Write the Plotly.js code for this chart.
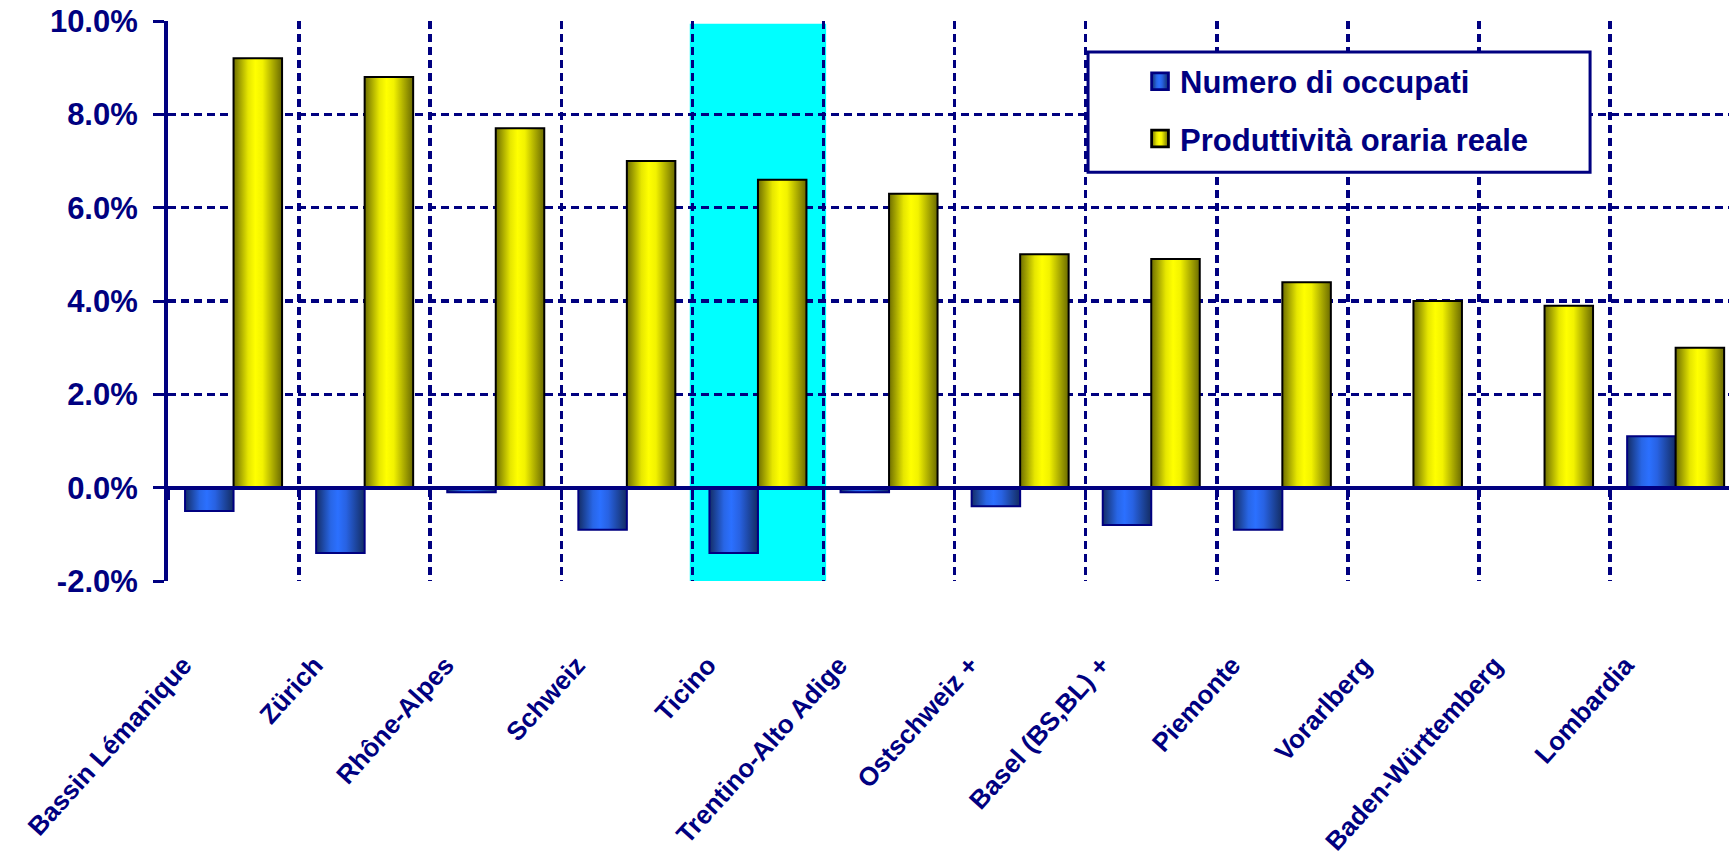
<!DOCTYPE html>
<html>
<head>
<meta charset="utf-8">
<script src="https://cdn.plot.ly/plotly-3.0.1.min.js"></script>
<style>html,body{margin:0;padding:0;background:#fff;}#chart{width:1729px;height:867px;}</style>
</head>
<body>
<div id="chart"></div>
<script>
const categories = ["Bassin Lémanique", "Zürich", "Rhône-Alpes", "Schweiz", "Ticino", "Trentino-Alto Adige", "Ostschweiz +", "Basel (BS,BL) +", "Piemonte", "Vorarlberg", "Baden-Württemberg", "Lombardia"];
const numeroOccupati = [-0.5, -1.4, -0.1, -0.9, -1.4, -0.1, -0.4, -0.8, -0.9, 0.0, 0.0, 1.1];
const produttivitaOraria = [9.2, 8.8, 7.7, 7.0, 6.6, 6.3, 5.0, 4.9, 4.4, 4.0, 3.9, 3.0];
const seriesNames = ["Numero di occupati", "Produttività oraria reale"];
const yTickVals = [-2, 0, 2, 4, 6, 8, 10];
const yTickText = ["-2.0%", "0.0%", "2.0%", "4.0%", "6.0%", "8.0%", "10.0%"];
const highlighted = "Ticino";

const NAVY = "#000080";
const tickFont = {family: "Liberation Sans Narrow, Liberation Sans, Arial, sans-serif", size: 31, color: NAVY, weight: 700};
const catFont = {family: "Liberation Sans Narrow, Liberation Sans, Arial, sans-serif", size: 26, color: NAVY, weight: 700};

const hi = categories.indexOf(highlighted);

const data = [
  {type: "bar", name: seriesNames[0], x: categories, y: numeroOccupati, legendgroup: "a",
   marker: {color: "#2a64e0", line: {color: NAVY, width: 2}}},
  {type: "bar", name: seriesNames[1], x: categories, y: produttivitaOraria, legendgroup: "b",
   marker: {color: "#f0f000", line: {color: "#000000", width: 2}}}
];

const layout = {
  width: 1729, height: 867,
  margin: {l: 168, r: 0, t: 21, b: 286, pad: 0},
  paper_bgcolor: "#ffffff", plot_bgcolor: "#ffffff",
  barmode: "group", bargap: 0.26, bargroupgap: 0,
  showlegend: true,
  legend: {x: 0.6227, y: 0.94, xanchor: "left", yanchor: "top", bgcolor: "rgba(0,0,0,0)", borderwidth: 0,
           font: {family: "Liberation Sans, Arial, sans-serif", size: 31, color: NAVY, weight: 700},
           tracegroupgap: 14},
  xaxis: {
    type: "category", range: [-0.5, 11.407], fixedrange: true,
    anchor: "free", position: 1/6,
    showline: true, linecolor: NAVY, linewidth: 4,
    ticks: "outside", tickson: "boundaries", ticklen: 10, tickwidth: 3, tickcolor: NAVY,
    showgrid: true, gridcolor: NAVY, gridwidth: 3.5, griddash: "8px,5px",
    tickangle: -48, tickfont: catFont, ticklabelstandoff: 150, ticklabelshift: -50,
    zeroline: false
  },
  yaxis: {
    range: [-2, 10], fixedrange: true,
    tickvals: yTickVals, ticktext: yTickText, tickfont: tickFont,
    showline: true, linecolor: NAVY, linewidth: 4,
    ticks: "outside", ticklen: 11, tickwidth: 3, tickcolor: NAVY, ticklabelstandoff: 9,
    showgrid: true, gridcolor: NAVY, gridwidth: 3.5, griddash: "8px,5px",
    zeroline: false
  },
  shapes: [
    {type: "rect", layer: "below", xref: "x", yref: "y", x0: hi - 0.52, x1: hi + 0.52, y0: -2, y1: 9.94,
     fillcolor: "#00ffff", line: {width: 0}},
    {type: "rect", layer: "above", xref: "paper", yref: "paper", x0: 0.5894, x1: 0.911, y0: 0.730, y1: 0.9446,
     fillcolor: "#ffffff", line: {color: NAVY, width: 3}}
  ]
};

function addGradients(gd) {
  const svg = gd.querySelector(".main-svg");
  const ns = "http://www.w3.org/2000/svg";
  let defs = svg.querySelector("defs");
  if (!defs) { defs = document.createElementNS(ns, "defs"); svg.insertBefore(defs, svg.firstChild); }
  function grad(id, stops) {
    const g = document.createElementNS(ns, "linearGradient");
    g.setAttribute("id", id); g.setAttribute("x1", "0"); g.setAttribute("x2", "1"); g.setAttribute("y1", "0"); g.setAttribute("y2", "0");
    stops.forEach(s => { const st = document.createElementNS(ns, "stop"); st.setAttribute("offset", s[0]); st.setAttribute("stop-color", s[1]); g.appendChild(st); });
    defs.appendChild(g);
  }
  grad("gBlue", [["0", "#142d66"], ["0.3", "#2866e6"], ["0.45", "#2b70ff"], ["0.62", "#2862e2"], ["1", "#132c62"]]);
  grad("gYellow", [["0", "#6e6e00"], ["0.3", "#e6e600"], ["0.45", "#ffff00"], ["0.6", "#f2f200"], ["1", "#6a6a00"]]);
  const ids = ["gBlue", "gYellow"];
  gd.querySelectorAll(".barlayer .trace").forEach((t, i) => {
    t.querySelectorAll(".point path").forEach(p => { p.style.fill = "url(#" + ids[i] + ")"; });
  });
  gd.querySelectorAll(".legend .traces").forEach((t, i) => {
    t.querySelectorAll(".legendpoints path").forEach(p => {
      p.style.fill = "url(#" + ids[i] + ")";
      const tr = p.getAttribute("transform") || "";
      p.setAttribute("transform", (tr + " scale(1.4)").trim());
    });
  });
}

Plotly.newPlot("chart", data, layout, {displayModeBar: false, staticPlot: true}).then(addGradients);
</script>
</body>
</html>
